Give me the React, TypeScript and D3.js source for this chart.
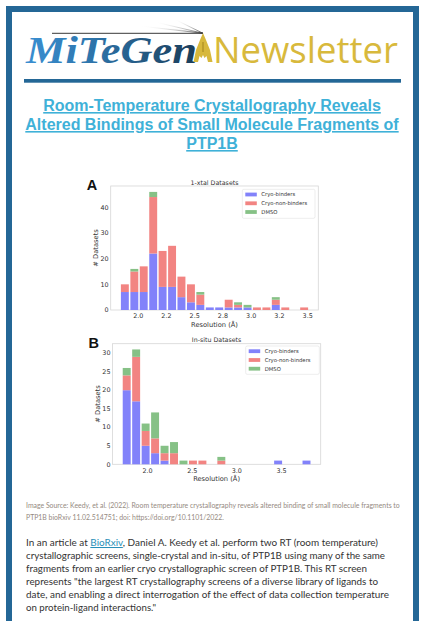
import React from "react";
import * as d3 from "d3";

// ---------- Data ----------
const seriesNames = ["Cryo-binders", "Cryo-non-binders", "DMSO"];

// Chart A: 1-xtal datasets (bin left edges, Å)
const binStartA = [1.840, 1.924, 2.007, 2.091, 2.174, 2.258, 2.341, 2.425, 2.508, 2.592,
  2.675, 2.759, 2.842, 2.926, 3.009, 3.093, 3.176, 3.260, 3.343, 3.427];
const binWidthA = 0.0835;
const blueA = [7, 7, 7, 22, 9, 9, 5, 3, 2, 1, 1, 1, 1, 1, 0, 0, 2, 0, 0, 0];
const redA = [3, 8, 10, 22, 14, 16, 8, 7, 4, 0, 0, 3, 1, 0, 1, 1, 2, 1, 0, 1];
const greenA = [0, 1, 0, 2, 0, 0, 0, 0, 1, 0, 0, 0, 1, 1, 0, 0, 1, 0, 0, 0];
const xTicksA = [2.0, 2.25, 2.5, 2.75, 3.0, 3.25, 3.5];
const xTickLabelsA = ["2.0", "2.2", "2.5", "2.8", "3.0", "3.2", "3.5"];
const yTicksA = [0, 10, 20, 30, 40];

// Chart B: in-situ datasets
const binStartB = [1.713, 1.819, 1.925, 2.031, 2.137, 2.243, 2.349, 2.455, 2.561, 2.667,
  2.773, 2.879, 2.985, 3.091, 3.197, 3.303, 3.409, 3.515, 3.621, 3.727];
const binWidthB = 0.106;
const blueB = [20, 17, 5, 3, 1, 0, 0, 0, 0, 0, 0, 0, 0, 0, 0, 0, 1, 0, 0, 1];
const redB = [4, 12, 4, 4, 2, 3, 0, 1, 1, 0, 1, 0, 0, 0, 0, 0, 0, 0, 0, 0];
const greenB = [2, 2, 2, 7, 2, 3, 1, 0, 0, 0, 1, 0, 0, 0, 0, 0, 0, 0, 0, 0];
const xTicksB = [2.0, 2.5, 3.0, 3.5];
const xTickLabelsB = ["2.0", "2.5", "3.0", "3.5"];
const yTicksB = [0, 5, 10, 15, 20, 25, 30];

const titleLines = [
  "Room-Temperature Crystallography Reveals",
  "Altered Bindings of Small Molecule Fragments of",
  "PTP1B",
];
const sourceLines = [
  "Image Source: Keedy, et al. (2022). Room temperature crystallography reveals altered binding of small molecule fragments to",
  "PTP1B bioRxiv 11.02.514751; doi: https://doi.org/10.1101/2022.",
];
const bodyLines = [
  ["In an article at ", "BioRxiv", ", Daniel A. Keedy et al. perform two RT (room temperature)"],
  ["crystallographic screens, single-crystal and in-situ, of PTP1B using many of the same"],
  ["fragments from an earlier cryo crystallographic screen of PTP1B. This RT screen"],
  ["represents \"the largest RT crystallography screens of a diverse library of ligands to"],
  ["date, and enabling a direct interrogation of the effect of data collection temperature"],
  ["on protein-ligand interactions.\""],
];
// rendered widths of the body lines in the reference layout (px)
const bodyLineWidths = [352, 359, 341, 352, 363, 130];

const COLORS = ["#8282fa", "#f28482", "#86c186"];
const FRAME = "#246796";
const CHART_FONT = "DejaVu Sans, sans-serif";

type HistProps = {
  binStart: number[];
  binWidth: number;
  series: number[][];
  xTicks: number[];
  xTickLabels: string[];
  yTicks: number[];
  left: number;
  right: number;
  top: number;
  bottom: number;
  title: string;
  letter: string;
  legend: { x: number; y: number; w: number; h: number; rows: number[] };
};

function Histogram(p: HistProps) {
  const lo = p.binStart[0];
  const hi = p.binStart[p.binStart.length - 1] + p.binWidth;
  const pad = (hi - lo) * 0.05;
  const x = d3.scaleLinear().domain([lo - pad, hi + pad]).range([p.left, p.right]);
  const totals = p.binStart.map((_, i) => p.series.reduce((s, arr) => s + arr[i], 0));
  const maxT = d3.max(totals) as number;
  const y = d3.scaleLinear().domain([0, maxT * 1.05]).range([p.bottom, p.top]);
  const stack = d3.stack<number>().keys(["0", "1", "2"]).value((i, k) => p.series[+k][i]);
  const stacked = stack(d3.range(p.binStart.length));
  const bw = p.binWidth * 0.84;
  const midX = (p.left + p.right) / 2;
  const midY = (p.top + p.bottom) / 2;
  return (
    <g fontFamily={CHART_FONT}>
      <rect x={p.left} y={p.top} width={p.right - p.left} height={p.bottom - p.top} fill="#fff" stroke="#d6d6d6" strokeWidth={0.8} />
      {stacked.map((layer, si) => (
        <g key={si} fill={COLORS[si]}>
          {layer.map((d, i) =>
            d[1] - d[0] > 0 ? (
              <rect
                key={i}
                x={x(p.binStart[i] + (p.binWidth - bw) / 2)}
                y={y(d[1])}
                width={x(p.binStart[i] + bw) - x(p.binStart[i])}
                height={y(d[0]) - y(d[1])}
              />
            ) : null
          )}
        </g>
      ))}
      {p.xTicks.map((t, i) => (
        <text key={i} x={x(t)} y={p.bottom + 8.3} fontSize={6.4} textAnchor="middle" fill="#333">
          {p.xTickLabels[i]}
        </text>
      ))}
      {p.yTicks.map((t) => (
        <text key={t} x={p.left - 2} y={y(t) + 2.2} fontSize={6.4} textAnchor="end" fill="#333">
          {t}
        </text>
      ))}
      <text x={midX} y={p.bottom + 16.5} fontSize={6.7} textAnchor="middle" fill="#333">
        Resolution (Å)
      </text>
      <text transform={`translate(${p.left - 13},${midY}) rotate(-90)`} fontSize={6.7} textAnchor="middle" fill="#333">
        # Datasets
      </text>
      <text x={midX} y={p.top - 1.5} fontSize={6.3} textAnchor="middle" fill="#333">
        {p.title}
      </text>
      <text x={p.left - 24} y={p.top + 4} fontSize={14.5} fontWeight="bold" fontFamily="Liberation Sans, Arial, sans-serif" fill="#111">
        {p.letter}
      </text>
      <rect x={p.legend.x} y={p.legend.y} width={p.legend.w} height={p.legend.h} rx={1.5} fill="#fff" stroke="#e0e0e0" strokeWidth={0.6} />
      {seriesNames.map((n, i) => (
        <g key={n}>
          <rect x={p.legend.x + 3} y={p.legend.rows[i] - 1.9} width={11.5} height={3.8} fill={COLORS[i]} />
          <text x={p.legend.x + 19} y={p.legend.rows[i] + 1.9} fontSize={5.3} fill="#333">
            {n}
          </text>
        </g>
      ))}
    </g>
  );
}

function Logo() {
  return (
    <g>
      <defs>
        <linearGradient id="mtg" x1="0" x2="1" y1="0" y2="0">
          <stop offset="0" stopColor="#3a8fd2" />
          <stop offset="0.35" stopColor="#2f78b0" />
          <stop offset="1" stopColor="#1a3c58" />
        </linearGradient>
        <linearGradient id="streak" x1="0" x2="1">
          <stop offset="0" stopColor="#fff" stopOpacity={0} />
          <stop offset="1" stopColor="#333" />
        </linearGradient>
      </defs>
      <line x1={52} y1={33.3} x2={203} y2={33.3} stroke="#222" strokeWidth={0.9} />
      <line x1={140} y1={26} x2={203} y2={33.3} stroke="url(#streak)" strokeWidth={0.8} />
      <line x1={155} y1={22} x2={203} y2={33.3} stroke="url(#streak)" strokeWidth={0.8} />
      <line x1={175} y1={19.5} x2={203} y2={33.3} stroke="url(#streak)" strokeWidth={0.9} />
      <line x1={165} y1={28} x2={203} y2={33.3} stroke="url(#streak)" strokeWidth={0.6} />
      <text x={26} y={62.5} fontFamily="Liberation Serif, Times New Roman, serif" fontStyle="italic" fontWeight="bold" fontSize={37} textLength={171} lengthAdjust="spacingAndGlyphs" fill="url(#mtg)">
        MiTeGen
      </text>
      <path d="M203,33 L206,40 L210,50 L212.5,62 L208,62 L206.5,56 L204.5,58 L203,55 L201.5,58 L199.5,56 L198,62 L193.5,62 L196,50 L200,40 Z" fill="#d7b83c" />
      <line x1={203} y1={42} x2={203} y2={52} stroke="#8a6f10" strokeWidth={0.7} />
      <text x={213} y={62.5} fontFamily="Open Sans, Liberation Sans, sans-serif" fontSize={36} textLength={185} lengthAdjust="spacingAndGlyphs" fill="#d8b93c">
        Newsletter
      </text>
    </g>
  );
}

export default function App() {
  return (
    <svg width={423} height={621} style={{ position: "absolute", left: 0, top: 0, background: "#fff" }}>
      <rect x={0} y={0} width={423} height={621} fill="#fff" />
      <rect x={9} y={9} width={407} height={640} fill="none" stroke={FRAME} strokeWidth={6} />
      <Logo />
      <rect x={24} y={79} width={377} height={3.7} fill={FRAME} />
      {titleLines.map((t, i) => (
        <text key={i} x={212} y={111 + i * 19} textAnchor="middle" fontFamily="Liberation Sans, Arial, sans-serif" fontWeight="bold" fontSize={16} fill="#3fb1d8" textDecoration="underline">
          {t}
        </text>
      ))}
      <Histogram
        binStart={binStartA}
        binWidth={binWidthA}
        series={[blueA, redA, greenA]}
        xTicks={xTicksA}
        xTickLabels={xTickLabelsA}
        yTicks={yTicksA}
        left={110.7}
        right={318.3}
        top={186}
        bottom={310}
        title="1-xtal Datasets"
        letter="A"
        legend={{ x: 242.3, y: 189.3, w: 72.7, h: 29, rows: [194.5, 203.3, 212] }}
      />
      <Histogram
        binStart={binStartB}
        binWidth={binWidthB}
        series={[blueB, redB, greenB]}
        xTicks={xTicksB}
        xTickLabels={xTickLabelsB}
        yTicks={yTicksB}
        left={112.5}
        right={320.7}
        top={343.7}
        bottom={464.3}
        title="In-situ Datasets"
        letter="B"
        legend={{ x: 245.7, y: 346, w: 73.6, h: 28.3, rows: [351.2, 360, 368.7] }}
      />
      {sourceLines.map((t, i) => (
        <text key={i} x={26} y={507.5 + i * 12} fontFamily="Lato, Noto Sans, sans-serif" fontSize={6.9} fill="#958a82">
          {t}
        </text>
      ))}
      {bodyLines.map((parts, i) => (
        <text key={i} x={26} y={546 + i * 13} fontFamily="Lato, Noto Sans, sans-serif" fontSize={10.2} fill="#333" textLength={bodyLineWidths[i]} lengthAdjust="spacingAndGlyphs">
          {parts.map((s, j) =>
            s === "BioRxiv" ? (
              <tspan key={j} fill="#2a8fb8" textDecoration="underline">
                {s}
              </tspan>
            ) : (
              <tspan key={j}>{s}</tspan>
            )
          )}
        </text>
      ))}
    </svg>
  );
}
